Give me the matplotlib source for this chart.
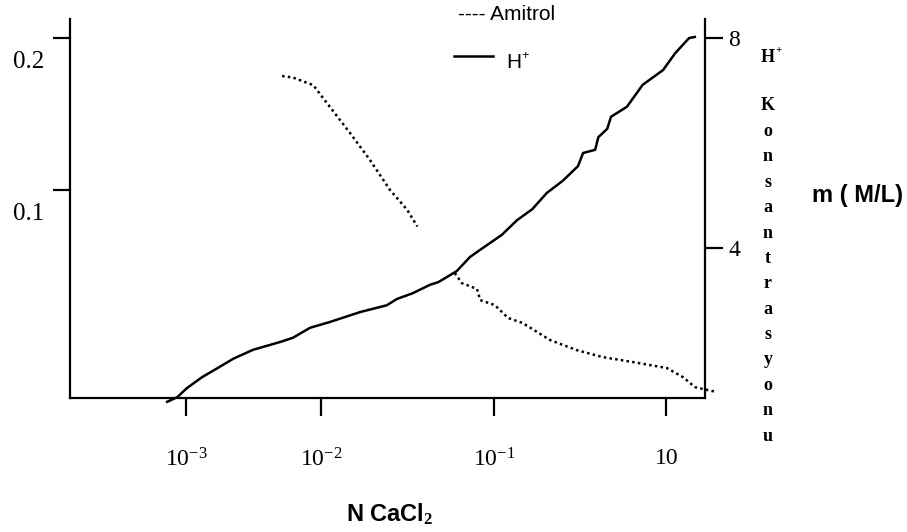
import matplotlib
matplotlib.use('Agg')
import matplotlib.pyplot as plt
from matplotlib.lines import Line2D
from matplotlib.transforms import ScaledTranslation

plt.rcParams['mathtext.fontset'] = 'custom'
plt.rcParams['mathtext.rm'] = 'Liberation Serif'
plt.rcParams['mathtext.it'] = 'Liberation Serif:italic'
plt.rcParams['mathtext.bf'] = 'Liberation Serif:bold'

# ---------------- data ----------------
xtick_pos = [18.3, 39.5, 66.8, 93.9]
xtick_labels = [r'$\mathregular{10^{-3}}$', r'$\mathregular{10^{-2}}$',
                r'$\mathregular{10^{-1}}$', '10']
left_ticks = [0.1, 0.2]
left_labels = ['0.1', '0.2']
right_ticks = [4, 8]
right_labels = ['4', '8']

# H+ concentration (right axis)
h_x = [15.3, 16.9, 18.4, 20.8, 23.2, 25.7, 28.8, 33.1, 35.1, 37.8, 40.9, 45.7,
       49.9, 51.5, 54.0, 56.7, 58.0, 59.4, 60.9, 63.0, 65.0, 68.0, 70.4, 72.8,
       75.1, 77.6, 80.0, 80.8, 82.7, 83.2, 84.6, 85.2, 87.7, 90.2, 93.4, 95.3,
       97.5, 98.4]
h_y = [1.07, 1.16, 1.33, 1.54, 1.71, 1.89, 2.06, 2.21, 2.29, 2.48, 2.59, 2.78,
       2.91, 3.03, 3.14, 3.30, 3.35, 3.45, 3.56, 3.83, 4.00, 4.25, 4.53, 4.74,
       5.05, 5.28, 5.56, 5.81, 5.87, 6.11, 6.27, 6.50, 6.69, 7.11, 7.39, 7.71,
       8.00, 8.02]

# Amitrol (left axis), two pieces
am1_x = [33.4, 35.1, 38.3, 40.5, 44.1, 47.2, 50.4, 53.1, 54.7]
am1_y = [0.175, 0.174, 0.169, 0.157, 0.1375, 0.120, 0.100, 0.087, 0.076]
am2_x = [60.6, 61.7, 64.1, 64.6, 66.9, 69.0, 71.3, 75.6, 79.8, 83.9, 88.7,
         94.0, 96.5, 98.4, 99.7, 101.9]
am2_y = [0.0454, 0.0388, 0.0349, 0.0276, 0.0243, 0.0158, 0.0125, 0.0013,
         -0.0053, -0.0099, -0.0132, -0.0171, -0.0230, -0.0296, -0.0309, -0.0329]

W, H = 907, 532
def fx(x):
    return x / W
def fy(y):
    return 1 - y / H

fig = plt.figure(figsize=(W / 100, H / 100), dpi=100)
ax = fig.add_axes([70 / W, 134 / H, 635 / W, 379 / H])
ax.set_xlim(0, 100)
ax.set_ylim(-0.0368, 0.2125)
ax2 = ax.twinx()
ax2.set_ylim(1.143, 8.362)

for s in ['top', 'right']:
    ax.spines[s].set_visible(False)
for s in ['top', 'left', 'bottom']:
    ax2.spines[s].set_visible(False)
for s in ['left', 'bottom']:
    ax.spines[s].set_linewidth(1.6)
ax2.spines['right'].set_linewidth(1.6)

serif = 'Liberation Serif'
ax.set_xticks(xtick_pos)
ax.set_xticklabels(xtick_labels, fontsize=17, family=serif)
ax.tick_params(axis='x', direction='out', length=13, width=1.6, pad=23)
ax.set_yticks(left_ticks)
ax.set_yticklabels(left_labels, fontsize=18, family=serif)
ax.tick_params(axis='y', direction='out', length=12.5, width=1.6, pad=6)
ax2.set_yticks(right_ticks)
ax2.set_yticklabels(right_labels, fontsize=17, family=serif)
ax2.tick_params(axis='y', direction='out', length=13, width=1.6, pad=4)
ax.minorticks_off()
ax2.minorticks_off()

off = ScaledTranslation(0, -21 / 100, fig.dpi_scale_trans)
for t in ax.yaxis.get_major_ticks():
    t.label1.set_transform(t.label1.get_transform() + off)

ax.plot(am1_x, am1_y, color='black', lw=1.8, linestyle=(0, (1, 1.3)),
        dash_capstyle='butt')
ax.plot(am2_x, am2_y, color='black', lw=1.8, linestyle=(0, (1, 1.3)),
        dash_capstyle='butt', clip_on=False)
ax2.plot(h_x, h_y, color='black', lw=1.8, clip_on=False)

# legend (manual)
sans = 'Liberation Sans'
fig.text(fx(458), fy(15), '---- Amitrol', fontsize=15, family=sans,
         ha='left', va='center')
fig.add_artist(Line2D([fx(454), fx(493)], [fy(56), fy(56)], color='black',
                      lw=1.8))
fig.text(fx(506), fy(63), 'H', fontsize=15, family=sans, ha='left', va='center')
fig.text(fx(521), fy(56), '+', fontsize=9, family=sans, ha='left', va='center')

# right-side stacked label
fig.text(fx(768), fy(57), 'H', fontsize=13, family=serif, weight='bold',
         ha='center', va='center')
fig.text(fx(775), fy(51), '+', fontsize=8, family=serif, weight='bold',
         ha='left', va='center')
letters = 'Konsantrasyonu'
for i, ch in enumerate(letters):
    fig.text(fx(768), fy(106 + i * 25.4), ch, fontsize=13, family=serif,
             weight='bold', ha='center', va='center')

fig.text(fx(858), fy(195), 'm ( M/L)', fontsize=17, family=sans,
         weight='bold', ha='center', va='center')
fig.text(fx(390), fy(514), r'N CaCl$_\mathbf{2}$', fontsize=17, family=sans,
         weight='bold', ha='center', va='center')

fig.savefig('out.png', dpi=100)
